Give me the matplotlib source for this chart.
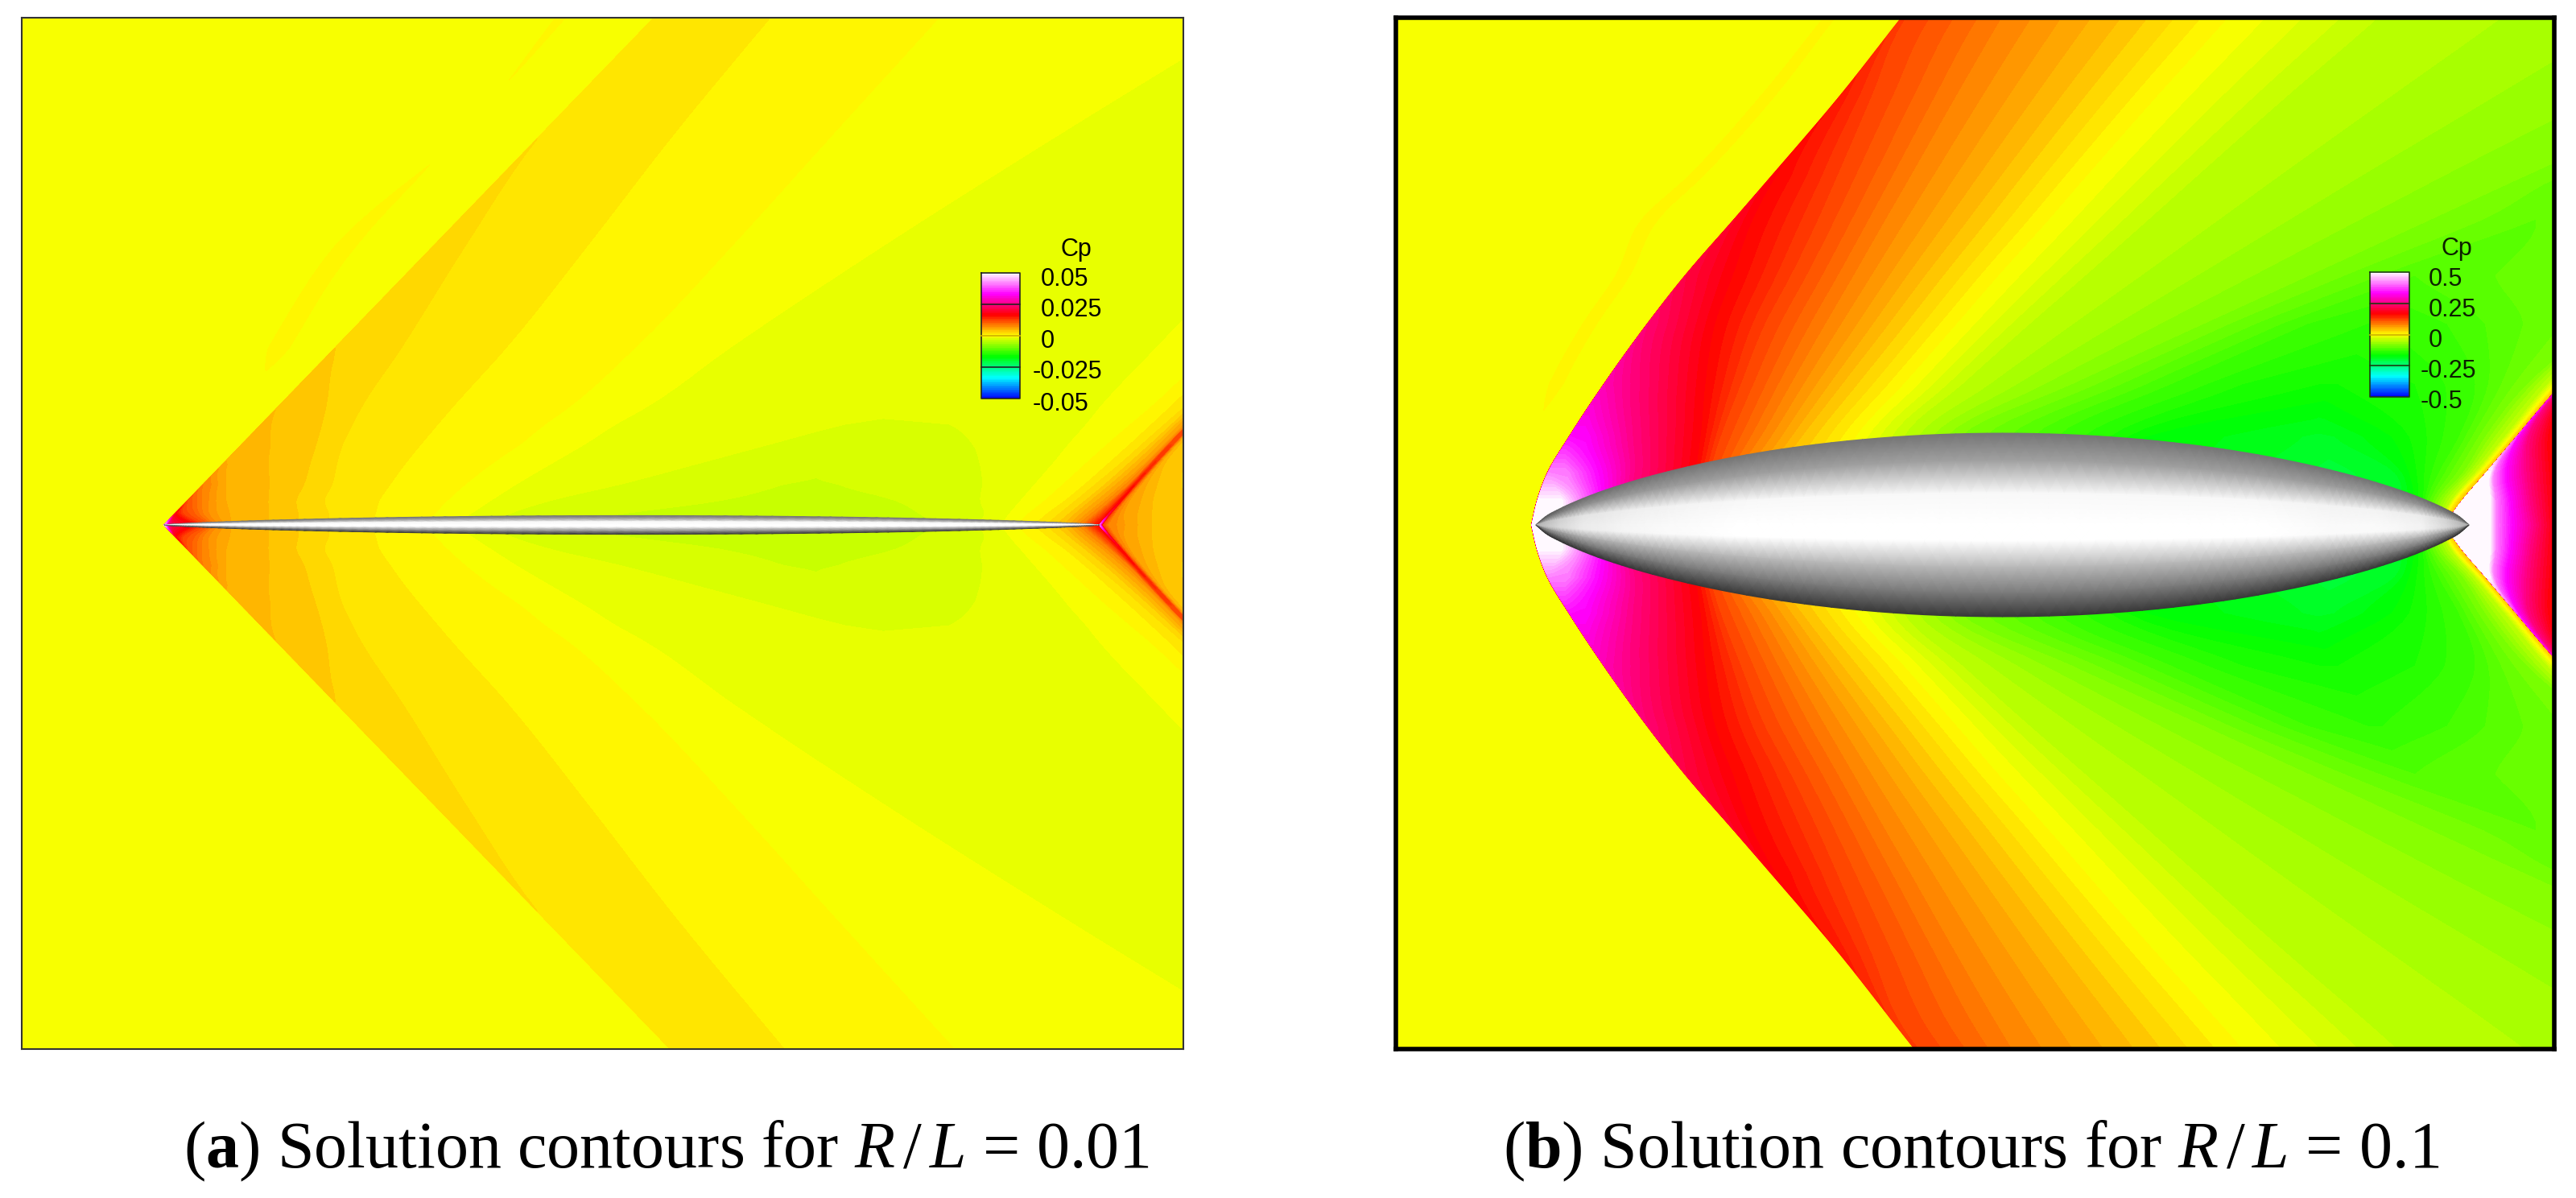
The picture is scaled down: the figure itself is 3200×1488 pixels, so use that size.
import numpy as np
import matplotlib
matplotlib.use("Agg")
import matplotlib.pyplot as plt
from matplotlib.colors import LinearSegmentedColormap, Normalize

plt.rcParams["font.family"] = ["Liberation Sans", "DejaVu Sans"]
plt.rcParams["mathtext.fontset"] = "custom"
plt.rcParams["mathtext.rm"] = "Liberation Serif"
plt.rcParams["mathtext.it"] = "Liberation Serif:italic"
plt.rcParams["mathtext.bf"] = "Liberation Serif:bold"

# Contour bands: Cp range is split in 96 equal bands, values below are in band units
BAND_ANCHORS = [-48, -32, -16, 0, 16, 32, 48]
BAND_COLORS = ["#0000ff", "#00ffff", "#00ff00", "#ffff00", "#ff0000", "#ff00ff", "#ffffff"]
FREESTREAM = -0.5

TICKS_A = ["0.05", "0.025", "0", "-0.025", "-0.05"]
TICKS_B = ["0.5", "0.25", "0", "-0.25", "-0.5"]
CAPTION_A = r"($\mathbf{a}$) Solution contours for $R\,/\,L$ = 0.01"
CAPTION_B = r"($\mathbf{b}$) Solution contours for $R\,/\,L$ = 0.1"

# Body outline (fraction of length, fraction of max radius)
BODY_S = [0, .01, .025, .05, .1, .15, .226, .3, .4, .5, .6, .7, .774, .85, .9, .95, .975, .99, 1]
BODY_R = [0, .089, .174, .288, .465, .603, .765, .877, .97, 1, .97, .877, .765, .603, .465, .288, .174, .089, 0]
BODY_LIGHT_B = [.70, .76, .84, .92, .96, .98, 1, 1, 1, 1, 1, 1, 1, .98, .98, .95, .85, .75, .68]
BODY_LIGHT_A = [1, 1, 1, 1, 1, 1, 1, 1, 1, 1, 1, 1, 1, 1, 1, 1, 1, 1, 1]
SHADE_V = [1, .7, .35, 0, -.17, -.46, -.75, -1]
SHADE_G = [.46, .63, .97, 1, 1, .72, .47, .22]

# ---------- Panel a: isoline offsets (px behind the bow shock) per height row ----------
A_H = [0, 12, 30, 50, 80, 100, 125, 143, 220, 350, 480, 660]
A_SHOCK_U = [45, 18, 11, 8, 5, 4.7, 4.3, 4, 3, 2.4, 2, 1.6]
A_RIPPLE_XI = [-30, -30, -30, -30, -30, -30, -35, -40, -70, -110, -100, -120]
A_RIPPLE_U = [-.5, -.5, -.5, -.5, -.5, -.5, -.5, -.5, .3, .3, -.1, .15]
A_FAN_LEVELS = [40, 32, 25, 20, 16, 12, 10, 8, 7, 6, 5, 4, 3, 2, 1, 0, -1]
A_FAN_XI = [
    [1, 0, 0, 0, 0, 0, 0, 0, 0, 0, 0, 0],
    [2, 0, 0, 0, 0, 0, 0, 0, 0, 0, 0, 0],
    [4, 0, 0, 0, 0, 0, 0, 0, 0, 0, 0, 0],
    [10, 0, 0, 0, 0, 0, 0, 0, 0, 0, 0, 0],
    [35, 3, 0, 0, 0, 0, 0, 0, 0, 0, 0, 0],
    [50, 14, 0, 0, 0, 0, 0, 0, 0, 0, 0, 0],
    [57, 28, 6, 0, 0, 0, 0, 0, 0, 0, 0, 0],
    [63, 38, 18, 0, 0, 0, 0, 0, 0, 0, 0, 0],
    [68, 45, 26, 10, 0, 0, 0, 0, 0, 0, 0, 0],
    [75, 55, 35, 18, 0, 0, 0, 0, 0, 0, 0, 0],
    [83, 70, 48, 28, 3, 0, 0, 0, 0, 0, 0, 0],
    [130, 118, 100, 82, 52, 35, 12, 0, 0, 0, 0, 0],
    [167, 155, 135, 125, 105, 92, 75, 62, 3, 0, 0, 0],
    [205, 193, 170, 160, 138, 125, 113, 105, 82, 38, 0, 0],
    [256, 250, 238, 232, 225, 222, 219, 217, 212, 190, 165, 140],
    [322, 322, 322, 325, 335, 345, 352, 360, 372, 370, 362, 352],
    [360, 366, 376, 388, 410, 425, 440, 455, 490, 560, 640, 760],
]
A_MID_FLOOR = [-3.5, -3.5, -3.5, -3.2, -2.5, -2.5, -2.2, -1.7, -1.5, -1.5, -1.5, -1.5]
A_MID_LEVELS = [-2, -3, -3.5, -3, -2]
A_MID_XI = [
    [405, 413, 450, 516, 600, 655, 725, 791, 760, 800, 850, 900],
    [490, 545, 660, 720, 751, 751, 751, 791, 760, 800, 850, 900],
    [740, 740, 760, 755, 751, 751, 751, 791, 760, 800, 850, 900],
    [960, 930, 880, 790, 751, 751, 751, 791, 760, 800, 850, 900],
    [1010, 1007, 985, 968, 935, 908, 855, 791, 760, 800, 850, 900],
]
A_TAIL_LEVELS = [-1, 0, 1, 2, 3, 4, 6, 8, 12, 16]
A_TAIL_XI = [
    [1040, 1037, 1035, 1033, 1030, 1027, 1025, 1022, 1020, 1020, 1020, 1020],
    [1060, 1060, 1065, 1068, 1072, 1075, 1080, 1084, 1090, 1095, 1100, 1105],
    [1081, 1083, 1090, 1095, 1100, 1103, 1106, 1108, 1112, 1116, 1120, 1125],
    [1095, 1098, 1103, 1108, 1115, 1118, 1122, 1125, 1130, 1132, 1134, 1136],
    [1108, 1110, 1115, 1120, 1125, 1128, 1131, 1133, 1136, 1138, 1140, 1142],
    [1118, 1118, 1122, 1127, 1132, 1134, 1136, 1138, 1140, 1142, 1144, 1146],
    [1130, 1132, 1137, 1141, 1145, 1146, 1146, 1146, 1146, 1148, 1150, 1152],
    [1140, 1143, 1147, 1150, 1150, 1150, 1150, 1149, 1150, 1152, 1154, 1156],
    [1150, 1153, 1154, 1154, 1153, 1152, 1152, 1152, 1152, 1154, 1156, 1158],
    [1161, 1160, 1159, 1157, 1155, 1154, 1153, 1153, 1153, 1155, 1157, 1159],
]
A_WAKE_PEAK = [40, 20, 16, 15, 13, 12, 12, 10, 8, 8, 8, 8]
A_WAKE_LEVELS = [12, 8, 6, 5, 4, 3, 2.9]
A_WAKE_XI = [
    [1165, 1163, 1161, 1159, 1157, 1156, 1155, 1155, 1155, 1157, 1159, 1161],
    [1172, 1168, 1164, 1162, 1159, 1158, 1157, 1157, 1157, 1159, 1161, 1163],
    [1193, 1180, 1170, 1165, 1161, 1160, 1159, 1159, 1159, 1161, 1163, 1165],
    [1209, 1197, 1184, 1172, 1163, 1161, 1160, 1160, 1160, 1162, 1164, 1166],
    [1226, 1215, 1199, 1185, 1168, 1165, 1163, 1163, 1163, 1165, 1167, 1169],
    [1290, 1270, 1240, 1215, 1190, 1178, 1170, 1170, 1170, 1172, 1174, 1176],
    [1500, 1500, 1500, 1500, 1500, 1500, 1500, 1500, 1500, 1500, 1500, 1500],
]

# ---------- Panel b: isoline positions (px) per height row; 0 = on the bow shock ----------
B_H = [0, 30, 65, 110, 175, 250, 310, 380, 432, 534, 627, 660]
B_SHOCK_X = [1903, 1910, 1923, 1950, 1993, 2047, 2094, 2155, 2200, 2287, 2360, 2386]
B_SHOCK_U = [47.5, 47.5, 40, 32, 27, 23, 20, 18, 16.5, 14.5, 12.5, 12]
B_RIPPLE_XI = [-20, -20, -30, -45, -60, -72, -78, -105, -95, -90, -90, -90]
B_RIPPLE_U = [-.5, -.5, -.5, -.2, .2, .2, .2, .25, .2, .2, .15, .15]
B_FAN_LEVELS = [47.5, 40, 32, 24, 16, 12, 8, 4, 0, -4, -8]
B_FAN_X = [
    [1935, 1940, 0, 0, 0, 0, 0, 0, 0, 0, 0, 0],
    [1950, 1962, 1945, 0, 0, 0, 0, 0, 0, 0, 0, 0],
    [1990, 1990, 1985, 1968, 0, 0, 0, 0, 0, 0, 0, 0],
    [2010, 2020, 2030, 2028, 2025, 0, 0, 0, 0, 0, 0, 0],
    [2080, 2095, 2105, 2112, 2118, 2130, 2152, 2177, 2205, 0, 0, 0],
    [2098, 2108, 2122, 2137, 2162, 2192, 2224, 2258, 2281, 2325, 2365, 2390],
    [2132, 2142, 2157, 2187, 2224, 2267, 2302, 2342, 2372, 2430, 2484, 2504],
    [2176, 2186, 2205, 2238, 2288, 2346, 2391, 2445, 2484, 2561, 2632, 2657],
    [2270, 2275, 2285, 2305, 2364, 2430, 2482, 2545, 2590, 2680, 2764, 2793],
    [2345, 2355, 2365, 2365, 2437, 2521, 2590, 2669, 2727, 2842, 2950, 2987],
    [2425, 2435, 2435, 2435, 2573, 2737, 2868, 3020, 3133, 3360, 3560, 3630],
]
B_MID_FLOOR = [-20, -20, -19.5, -18.2, -15, -13, -11, -10, -9.5, -9, -9, -9]
B_MID_LEVELS = [-12, -14, -16, -18, -20, -18, -16, -14, -12]
B_MID_X = [
    [2530, 2545, 2555, 2555, 2696, 2866, 3000, 3150, 3200, 3600, 3800, 3900],
    [2560, 2580, 2600, 2620, 2785, 2940, 3000, 3150, 3200, 3600, 3800, 3900],
    [2600, 2640, 2660, 2665, 2880, 2950, 3000, 3150, 3200, 3600, 3800, 3900],
    [2750, 2780, 2800, 2860, 2890, 2950, 3000, 3150, 3200, 3600, 3800, 3900],
    [2900, 2900, 2900, 2880, 2895, 2955, 3000, 3150, 3200, 3600, 3800, 3900],
    [2985, 2985, 2975, 2900, 2900, 2955, 3000, 3150, 3200, 3600, 3800, 3900],
    [3000, 3000, 2993, 2971, 2905, 2955, 3000, 3150, 3200, 3600, 3800, 3900],
    [3005, 3010, 3012, 3015, 3000, 2960, 3000, 3150, 3200, 3600, 3800, 3900],
    [3012, 3015, 3030, 3055, 3075, 3040, 3000, 3150, 3200, 3600, 3800, 3900],
]
B_TAIL_LEVELS = [-8, -4, 0, 4]
B_TAIL_X = [
    [3025, 3030, 3060, 3088, 3140, 3230, 3300, 3400, 3450, 3650, 3850, 3950],
    [3030, 3045, 3075, 3112, 3165, 3240, 3310, 3410, 3460, 3660, 3860, 3960],
    [3033, 3050, 3082, 3120, 3175, 3250, 3320, 3420, 3470, 3670, 3870, 3970],
    [3036, 3058, 3088, 3126, 3182, 3258, 3328, 3428, 3478, 3678, 3878, 3978],
]
B_WAKE_PEAK = [47.5, 47.5, 47.5, 35, 26, 20, 20, 20, 20, 20, 20, 20]
B_WAKE_LEVELS = [47.5, 40, 32, 24, 16, 15]
B_WAKE_X = [
    [3093, 3093, 3093, 0, 0, 0, 0, 0, 0, 0, 0, 0],
    [3100, 3100, 3098, 0, 0, 0, 0, 0, 0, 0, 0, 0],
    [3120, 3118, 3113, 0, 0, 0, 0, 0, 0, 0, 0, 0],
    [3147, 3142, 3138, 3140, 0, 0, 0, 0, 0, 0, 0, 0],
    [3173, 3172, 3170, 3168, 3190, 3270, 3340, 3440, 3490, 3690, 3890, 3990],
    [3400, 3400, 3400, 3400, 3400, 3400, 3450, 3550, 3600, 3800, 4000, 4100],
]

W, H = 3200, 1488
fig = plt.figure(figsize=(W / 100, H / 100), dpi=100, facecolor="white")
full = fig.add_axes([0, 0, 1, 1], facecolor="none")
full.set_xlim(0, W); full.set_ylim(H, 0); full.axis("off")

cmap = LinearSegmentedColormap.from_list(
    "rainbow_cp", [((a + 48) / 96, c) for a, c in zip(BAND_ANCHORS, BAND_COLORS)], N=960)
norm = Normalize(-48, 48)
LEVELS = np.arange(-48, 49)


def panel_axes(x0, x1, y0, y1, lw, col):
    ax = fig.add_axes([x0 / W, 1 - y1 / H, (x1 - x0) / W, (y1 - y0) / H])
    ax.set_xlim(x0, x1); ax.set_ylim(y1, y0)
    ax.set_xticks([]); ax.set_yticks([])
    for s in ax.spines.values():
        s.set_linewidth(lw); s.set_color(col); s.set_zorder(10)
    return ax


def round_rows(heights, X, sub=6):
    """Curve the read isolines between table rows (Hermite segments through the read positions)."""
    h = np.asarray(heights, float)
    d = np.gradient(X, h, axis=0)
    out_h, out_x = [], []
    for i in range(len(h) - 1):
        dh = h[i + 1] - h[i]
        t = np.linspace(0, 1, sub, endpoint=False)[:, None]
        xx = ((2 * t**3 - 3 * t**2 + 1) * X[i][None, :] + (t**3 - 2 * t**2 + t) * dh * d[i][None, :]
              + (-2 * t**3 + 3 * t**2) * X[i + 1][None, :] + (t**3 - t**2) * dh * d[i + 1][None, :])
        out_x.append(xx); out_h.append(h[i] + t[:, 0] * dh)
    out_x.append(X[-1:]); out_h.append(h[-1:])
    return np.concatenate(out_h), np.vstack(out_x)


def draw_field(ax, heights, X, U, U_low, cy):
    X = np.maximum.accumulate(X, axis=1)
    hh, Xs = round_rows(heights, X)
    Xs = np.maximum.accumulate(Xs, axis=1) + np.arange(X.shape[1]) * 1e-3
    h2 = np.tile(hh[:, None], (1, X.shape[1]))
    for sign, uu in ((-1, U), (1, U_low)):
        Us = np.array([np.interp(hh, heights, uu[:, j]) for j in range(uu.shape[1])]).T
        ax.contourf(Xs, cy + sign * h2, Us, levels=LEVELS, cmap=cmap, norm=norm,
                    antialiased=False, zorder=1)


def draw_body(ax, x0, x1, rmax, cy, light):
    s0 = np.asarray(BODY_S)
    s, r = round_rows(BODY_S, np.asarray(BODY_R)[:, None])
    r = np.clip(r[:, 0], 0, 1) * rmax
    l = np.interp(s, s0, light)
    v = np.asarray(SHADE_V)
    X = np.tile((x0 + s * (x1 - x0))[:, None], (1, v.size))
    Y = cy - r[:, None] * v[None, :]
    C = l[:, None] * np.asarray(SHADE_G)[None, :]
    ax.pcolormesh(X, Y, C, shading="gouraud", cmap="gray", vmin=0, vmax=1, zorder=3)


def legend(ax, lims, xb0, xb1, yb0, yb1, ticks, xdig, xneg, ys, xcp, ycp, line, tc):
    vals = np.arange(-47.5, 48)[:, None]
    ax.imshow(vals[::-1], extent=(xb0, xb1, yb1, yb0), origin="upper", cmap=cmap, norm=norm,
              aspect="auto", interpolation="nearest", zorder=5)
    ax.set_xlim(*lims[0]); ax.set_ylim(*lims[1])
    ax.plot([xb0, xb1, xb1, xb0, xb0], [yb0, yb0, yb1, yb1, yb0], color=line, lw=1.2, zorder=6)
    for f in (.25, .75):
        yy = yb0 + f * (yb1 - yb0)
        ax.plot([xb0, xb1], [yy, yy], color=line, lw=1.2, zorder=6)
    ax.plot([xb0, xb1], [(yb0 + yb1) / 2] * 2, color="#d0b000", lw=1.2, zorder=6)
    for t, y in zip(ticks, ys):
        ax.text(xneg if t.startswith("-") else xdig, y, t, fontsize=22, va="center", ha="left",
                color=tc, zorder=7)
    ax.text(xcp, ycp, "Cp", fontsize=22, ha="center", va="center", color=tc, zorder=7)


def columns_from(shock, rip_xi, rip_u, half, left):
    n = len(shock)
    c = np.asarray(rip_xi, float)
    xc = [left, shock + c - half, shock + c, shock + np.minimum(c + half, -2), shock - 1, None]
    free = np.full(n, FREESTREAM)
    return xc, [free, free, np.asarray(rip_u, float), free, free, None], [free, free, free, free, free, None]


# ---------- panel a ----------
axa = panel_axes(27, 1470, 22, 1303, 1.5, "#333333")
lims_a = (axa.get_xlim(), axa.get_ylim())
CY_A = 652
ah = np.asarray(A_H, float)
ashock = 204 + 0.966 * ah
x_cols, u_up, u_lo = columns_from(ashock, A_RIPPLE_XI, A_RIPPLE_U, 35, ashock - 1000)
x_cols[-1] = ashock
u_up[-1] = u_lo[-1] = np.asarray(A_SHOCK_U, float)
extra_x, extra_u = [], []
for lev, xi in zip(A_FAN_LEVELS, A_FAN_XI):
    extra_x.append(ashock + np.asarray(xi, float)); extra_u.append(np.minimum(lev, A_SHOCK_U))
for lev, xi in zip(A_MID_LEVELS, A_MID_XI):
    extra_x.append(ashock + np.asarray(xi, float)); extra_u.append(np.maximum(lev, A_MID_FLOOR))
for lev, xi in zip(A_TAIL_LEVELS, A_TAIL_XI):
    extra_x.append(ashock + np.asarray(xi, float)); extra_u.append(np.minimum(float(lev), A_WAKE_PEAK))
extra_x.append(extra_x[-1] + 0.5); extra_u.append(np.asarray(A_WAKE_PEAK, float))
for lev, xi in zip(A_WAKE_LEVELS, A_WAKE_XI):
    extra_x.append(ashock + np.asarray(xi, float)); extra_u.append(np.minimum(lev, A_WAKE_PEAK))
draw_field(axa, A_H, np.array(x_cols + extra_x).T, np.array(u_up + extra_u).T, np.array(u_lo + extra_u).T, CY_A)
draw_body(axa, 204, 1366, 11.6, CY_A, BODY_LIGHT_A)
legend(axa, lims_a, 1219, 1267, 339, 495, TICKS_A, 1293, 1283, [347, 385, 424, 462, 502], 1337, 310, "#222222", "black")

# ---------- panel b ----------
axb = panel_axes(1734, 3173, 22, 1303, 4, "black")
lims_b = (axb.get_xlim(), axb.get_ylim())
CY_B = 652
bshock = np.asarray(B_SHOCK_X, float)
x_cols, u_up, u_lo = columns_from(bshock, B_RIPPLE_XI, B_RIPPLE_U, 30, np.full(12, 1500.0))
x_cols[-1] = bshock
u_up[-1] = u_lo[-1] = np.asarray(B_SHOCK_U, float)
extra_x, extra_u = [], []
for lev, xs in zip(B_FAN_LEVELS, B_FAN_X):
    xs = np.asarray(xs, float)
    extra_x.append(np.where(xs == 0, bshock, xs)); extra_u.append(np.minimum(lev, B_SHOCK_U))
for lev, xs in zip(B_MID_LEVELS, B_MID_X):
    extra_x.append(np.asarray(xs, float)); extra_u.append(np.maximum(lev, B_MID_FLOOR))
for lev, xs in zip(B_TAIL_LEVELS, B_TAIL_X):
    extra_x.append(np.asarray(xs, float)); extra_u.append(np.full(12, float(lev)))
tail_x = np.asarray(B_TAIL_X[-1], float)
extra_x.append(tail_x + 0.5); extra_u.append(np.asarray(B_WAKE_PEAK, float))
for lev, xs in zip(B_WAKE_LEVELS, B_WAKE_X):
    xs = np.asarray(xs, float)
    extra_x.append(np.where(xs == 0, tail_x + 1, xs)); extra_u.append(np.minimum(lev, B_WAKE_PEAK))
draw_field(axb, B_H, np.array(x_cols + extra_x).T, np.array(u_up + extra_u).T, np.array(u_lo + extra_u).T, CY_B)
draw_body(axb, 1908, 3067, 114, CY_B, BODY_LIGHT_B)
legend(axb, lims_b, 2944, 2993, 338, 493, TICKS_B, 3017, 3007, [347, 385, 423, 461, 499], 3052, 309, "#1c3c10", "#0c2000")

# ---------- captions ----------
full.text(228, 1450, CAPTION_A, fontsize=59, ha="left", va="baseline", family="Liberation Serif", color="black")
full.text(1867, 1450, CAPTION_B, fontsize=59, ha="left", va="baseline", family="Liberation Serif", color="black")

fig.savefig("out.png", dpi=100, facecolor="white")
